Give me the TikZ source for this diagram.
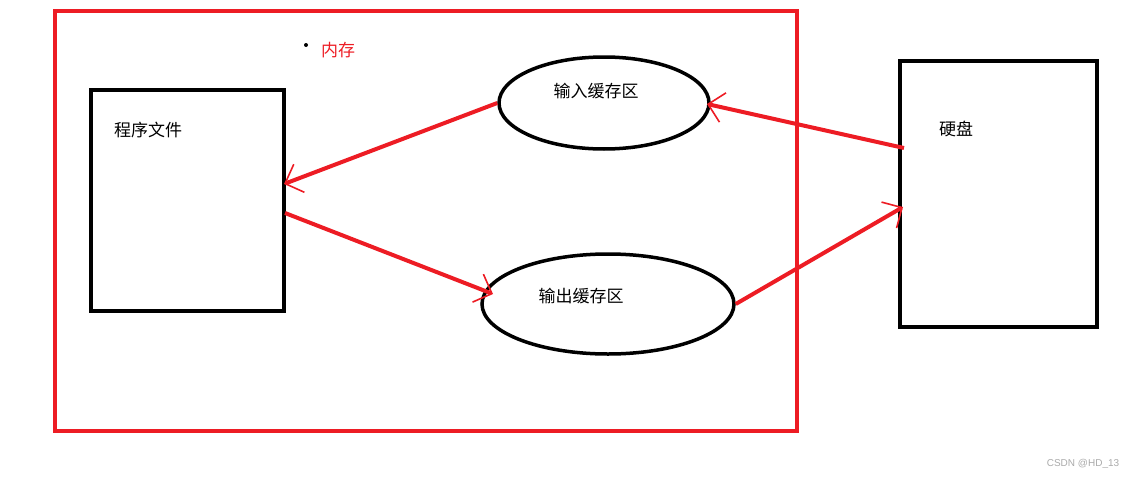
\documentclass[tikz,border=0pt]{standalone}
\usepackage{fontspec}
\newfontfamily\cjk{Noto Sans CJK SC}
\setsansfont{Liberation Sans}
\usetikzlibrary{shapes.geometric,arrows.meta}
\definecolor{myred}{RGB}{237,28,36}
\definecolor{wm}{RGB}{170,170,170}
\begin{document}
\begin{tikzpicture}[x=1pt,y=-1pt,
  oval/.style={draw=black,ellipse,line width=3.5pt,inner sep=0pt},
  redarrow/.style={draw=myred,line width=4pt,-{Straight Barb[length=15pt,width=30pt,line width=1.6pt]}},
  label/.style={font=\cjk\fontsize{17}{17}\selectfont,inner sep=0pt}]
\useasboundingbox (0,0) rectangle (1135,479);
% memory frame
\draw[myred,line width=4pt] (55,11) rectangle (797,431);
\fill (306,45) circle (2pt);
\node[label,text=myred] (mem) at (338,50) {内存};
% boxes
\node[draw=black,line width=4pt,minimum width=193pt,minimum height=221pt,inner sep=0pt] (prog) at (187.5,200.5) {};
\node[label] (progt) at (148,130) {程序文件};
\node[draw=black,line width=4pt,minimum width=197pt,minimum height=266pt,inner sep=0pt] (disk) at (998.5,194) {};
\node[label] (diskt) at (956,129) {硬盘};
% ellipses
\node[oval,minimum width=210pt,minimum height=92pt] (in) at (604,103) {};
\node[label] (int) at (596,91) {输入缓存区};
\node[oval,minimum width=252pt,minimum height=100pt] (out) at (608,304) {};
\node[label] (outt) at (581,296) {输出缓存区};
% endpoints
\coordinate (p1) at (284,184);
\coordinate (p2) at (285,213);
\coordinate (o1) at (493,294);
\coordinate (i1) at (707,104);
\coordinate (d1) at (904,148);
\coordinate (d2) at (903,207);
\draw[redarrow] (in.west) -- (p1);
\draw[redarrow] (p2) -- (o1);
\draw[redarrow] (d1) -- (i1);
\draw[redarrow] (out.east) -- (d2);
% watermark
\node[font=\sffamily\fontsize{10}{10}\selectfont,text=wm,inner sep=0pt] (wmk) at (1083,464) {CSDN @HD\_13};
\end{tikzpicture}
\end{document}
